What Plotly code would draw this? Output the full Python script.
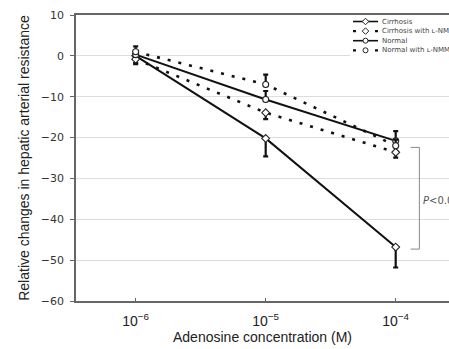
import plotly.graph_objects as go

# ---- data ----
conc = [1e-6, 1e-5, 1e-4]
tick_vals = [1e-6, 1e-5, 1e-4]
tick_text = ["10<sup>−6</sup>", "10<sup>−5</sup>", "10<sup>−4</sup>"]
y_ticks = [10, 0, -10, -20, -30, -40, -50, -60]

series_names = ["Cirrhosis", "Cirrhosis with ʟ-NMMA", "Normal", "Normal with ʟ-NMMA"]
cirrhosis = [0.0, -20.2, -46.8]
cirrhosis_err_minus = [1.8, 4.4, 5.0]
cirrhosis_lnmma = [-0.8, -13.9, -23.6]
cirrhosis_lnmma_err_minus = [1.2, 1.6, 1.3]
normal = [0.3, -10.7, -20.8]
normal_err_plus = [1.0, 2.1, 2.4]
normal_lnmma = [1.0, -7.0, -22.0]
normal_lnmma_err_plus = [1.3, 2.4, 1.5]

bracket_conc = [10 ** -3.885, 10 ** -3.818, 10 ** -3.818, 10 ** -3.885]
bracket_vals = [-22.4, -22.4, -47.3, -47.3]
p_label = "<i>P</i><0.05"
p_label_y = -35.4

# ---- styles ----
W, H = 449, 349
ml, mr, mt, mb = 76, 0, 15, 48
pw = W - ml - mr
ph = H - mt - mb
x_range = [-6.459, -3.59]

styles = [
    dict(dash="solid", symbol="diamond", width=2),
    dict(dash="3px,8px", symbol="diamond", width=2.6),
    dict(dash="solid", symbol="circle", width=2),
    dict(dash="3px,8px", symbol="circle", width=2.6),
]
values = [cirrhosis, cirrhosis_lnmma, normal, normal_lnmma]
errs = [
    dict(type="data", symmetric=False, array=[0, 0, 0], arrayminus=cirrhosis_err_minus),
    dict(type="data", symmetric=False, array=[0, 0, 0], arrayminus=cirrhosis_lnmma_err_minus),
    dict(type="data", symmetric=False, array=normal_err_plus, arrayminus=[0, 0, 0]),
    dict(type="data", symmetric=False, array=normal_lnmma_err_plus, arrayminus=[0, 0, 0]),
]

fig = go.Figure()

# bracket
fig.add_trace(go.Scatter(x=bracket_conc, y=bracket_vals, mode="lines",
                         line=dict(color="#888888", width=1), showlegend=False,
                         hoverinfo="skip", cliponaxis=False))

# lines first
for vals, st in zip(values, styles):
    fig.add_trace(go.Scatter(x=conc, y=vals, mode="lines",
                             line=dict(color="#111111", width=st["width"], dash=st["dash"]),
                             showlegend=False, hoverinfo="skip"))
# error bars + markers
for vals, st, er in zip(values, styles, errs):
    er = dict(er, color="#111111", thickness=2.2, width=2.5)
    fig.add_trace(go.Scatter(x=conc, y=vals, mode="markers", error_y=er,
                             marker=dict(symbol=st["symbol"], size=6, color="white",
                                         line=dict(color="#222222", width=1.1)),
                             showlegend=False))

# ---- custom legend on overlay axes ----
leg_x0_px, leg_x1_px = 350, W
leg_y0_px, leg_y1_px = 16, 56
row_top_px, row_step_px = 21.5, 9.6
samp_x0_px, samp_len_px = 353, 25
x2_scale = samp_len_px
x2_r0 = -(samp_x0_px - leg_x0_px) / x2_scale
x2_r1 = x2_r0 + (leg_x1_px - leg_x0_px) / x2_scale
y2_top = -(row_top_px - leg_y0_px) / row_step_px
y2_bot = (leg_y1_px - row_top_px) / row_step_px
dom_x = [(leg_x0_px - ml) / pw, (leg_x1_px - ml) / pw]
dom_y = [(H - mb - leg_y1_px) / ph, (H - mb - leg_y0_px) / ph]

for i, (name, st) in enumerate(zip(series_names, styles)):
    fig.add_trace(go.Scatter(x=[0, 1], y=[i, i], mode="lines", xaxis="x2", yaxis="y2",
                             line=dict(color="#111111", width=st["width"] - 0.4, dash=st["dash"]),
                             showlegend=False, hoverinfo="skip"))
    fig.add_trace(go.Scatter(x=[0.5], y=[i], mode="markers", xaxis="x2", yaxis="y2",
                             marker=dict(symbol=st["symbol"], size=5, color="white",
                                         line=dict(color="#222222", width=1)),
                             showlegend=False, hoverinfo="skip"))
    fig.add_annotation(x=1.08, y=i, xref="x2", yref="y2", text=name, showarrow=False,
                       xanchor="left", yanchor="middle",
                       font=dict(family="DejaVu Sans", size=7, color="#444444"))

fig.add_shape(type="rect", xref="paper", yref="paper", x0=dom_x[0], x1=dom_x[1],
              y0=dom_y[0], y1=dom_y[1], fillcolor="white", line=dict(width=0),
              layer="between")

fig.add_annotation(x=(421 - ml) / pw, y=p_label_y, xref="paper", yref="y",
                   text=p_label, showarrow=False, xanchor="left", yanchor="middle",
                   font=dict(family="DejaVu Sans", size=10, color="#555555"))

fig.update_layout(
    width=W, height=H,
    margin=dict(l=ml, r=mr, t=mt, b=mb),
    paper_bgcolor="white", plot_bgcolor="white",
    showlegend=False,
    xaxis=dict(type="log", range=x_range, tickvals=tick_vals, ticktext=tick_text,
               showgrid=False, zeroline=False, showline=True, mirror=True,
               linecolor="#666666", linewidth=1.5, ticks="inside", ticklen=3,
               tickcolor="#666666", ticklabelstandoff=6,
               tickfont=dict(family="Liberation Sans", size=14, color="#222222"),
               title=dict(text="Adenosine concentration (M)", standoff=4,
                          font=dict(family="Liberation Sans", size=14, color="#222222"))),
    yaxis=dict(range=[-60, 10], tickvals=y_ticks,
               ticktext=[str(v).replace("-", "−") for v in y_ticks],
               showgrid=True, gridcolor="#dddddd", gridwidth=1, zeroline=False,
               showline=True, linecolor="#666666", linewidth=1.5,
               ticks="outside", ticklen=4, tickcolor="#666666", ticklabelstandoff=4,
               tickfont=dict(family="DejaVu Sans", size=11, color="#333333"),
               title=dict(text="Relative changes in hepatic arterial resistance", standoff=8,
                          font=dict(family="Liberation Sans", size=14, color="#222222"))),
    xaxis2=dict(domain=dom_x, range=[x2_r0, x2_r1], anchor="y2", visible=False,
                fixedrange=True),
    yaxis2=dict(domain=dom_y, range=[y2_bot, y2_top], anchor="x2", visible=False,
                fixedrange=True),
)

fig.write_html("out.html", config={"displayModeBar": False},
               post_script="document.body.style.margin='0';document.body.style.overflow='hidden';")
